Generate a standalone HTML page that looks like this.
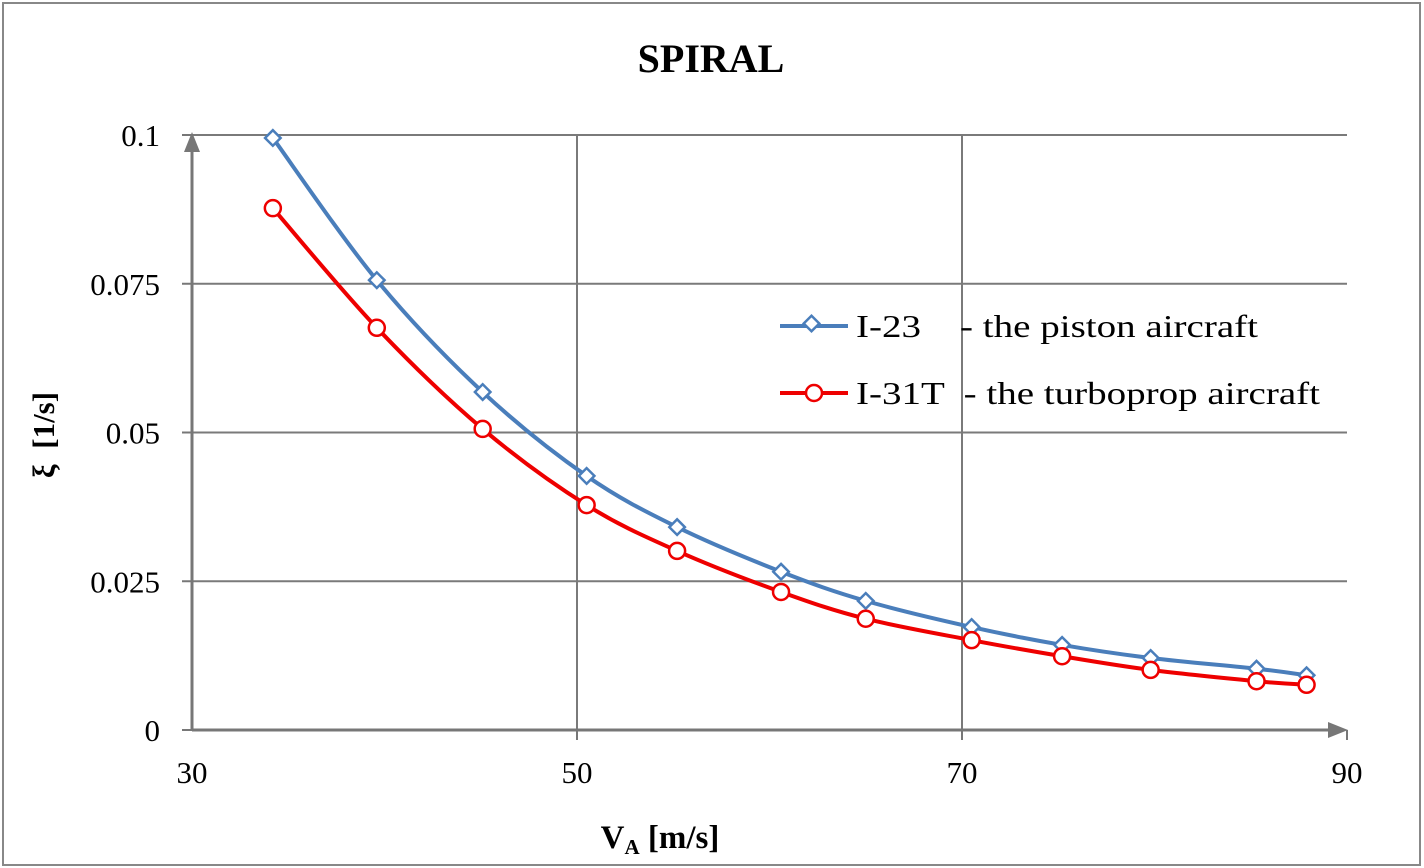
<!DOCTYPE html>
<html><head><meta charset="utf-8"><style>
body{margin:0;background:#fff}
svg{display:block;font-family:"Liberation Serif",serif}
</style></head><body>
<svg width="1424" height="868" viewBox="0 0 1424 868">
<rect x="3" y="3" width="1417" height="862" fill="#fff" stroke="#888" stroke-width="2"/>
<text x="711" y="72" font-size="40" font-weight="bold" text-anchor="middle">SPIRAL</text>
<g id="grid"></g>
<g id="axes"></g>
<g id="series"></g>
<text transform="translate(54,435) rotate(-90)" font-size="31" font-weight="bold" text-anchor="middle" style="white-space:pre">ξ  [1/s]</text>
<text x="660" y="848" font-size="33" font-weight="bold" text-anchor="middle">V<tspan font-size="21" dy="6">A</tspan><tspan dy="-6"> [m/s]</tspan></text>
<g>
<line x1="780" y1="326" x2="848" y2="326" stroke="#4a7ebb" stroke-width="4"/>
<rect x="806" y="318" width="11" height="11" transform="rotate(45 811.5 323.5)" fill="#fff" stroke="#4a7ebb" stroke-width="2.5"/>
<text x="856" y="337" font-size="32" textLength="402" lengthAdjust="spacingAndGlyphs" style="white-space:pre">I-23    - the piston aircraft</text>
<line x1="780" y1="393" x2="848" y2="393" stroke="#e00" stroke-width="4"/>
<circle cx="814" cy="393" r="8" fill="#fff" stroke="#e00" stroke-width="2.5"/>
<text x="856" y="404" font-size="32" textLength="464" lengthAdjust="spacingAndGlyphs" style="white-space:pre">I-31T  - the turboprop aircraft</text>
</g>
</svg>
<script>
const xs=[34.2,39.6,45.1,50.5,55.2,60.6,65.0,70.5,75.2,79.8,85.3,87.9];
const seriesI23=[0.0995,0.0756,0.0568,0.0427,0.0341,0.0266,0.0217,0.0173,0.0143,0.0121,0.0103,0.0092];
const seriesI31T=[0.0877,0.0676,0.0506,0.0378,0.0301,0.0232,0.0187,0.0151,0.0124,0.0101,0.0082,0.0076];
const xTicks=[30,50,70,90];
const yTicks=[0,0.025,0.05,0.075,0.1];
const yTickLabels=["0","0.025","0.05","0.075","0.1"];
const NS="http://www.w3.org/2000/svg";
const X=v=>192+(v-30)*(1347-192)/60;
const Y=v=>730-v*(730-135)/0.1;
function mk(t,a,p){const e=document.createElementNS(NS,t);for(const k in a)e.setAttribute(k,a[k]);p.appendChild(e);return e;}
const grid=document.getElementById('grid'),axes=document.getElementById('axes'),ser=document.getElementById('series');
yTicks.forEach((v,i)=>{
 if(v>0){const l=mk('line',{x1:192,x2:1347,y1:Y(v),y2:Y(v),stroke:'#7a7a7a','stroke-width':2},grid);
 
 }
 const t=mk('text',{x:160,y:Y(v)+11,'font-size':31,'text-anchor':'end'},axes);t.textContent=yTickLabels[i];
 
 
 mk('line',{x1:182,x2:192,y1:Y(v),y2:Y(v),stroke:'#777','stroke-width':2},axes);
});
xTicks.forEach(v=>{
 if(v>30&&v<90){const l=mk('line',{x1:X(v),x2:X(v),y1:135,y2:730,stroke:'#7a7a7a','stroke-width':2},grid);
 
 }
 if(v>30)mk('line',{x1:X(v),x2:X(v),y1:730,y2:740,stroke:'#777','stroke-width':2},axes);
 const t=mk('text',{x:X(v),y:783,'font-size':31,'text-anchor':'middle'},axes);t.textContent=v;
 
 
});
const ya=mk('line',{x1:192,x2:192,y1:150,y2:730,stroke:'#777','stroke-width':3},axes);


mk('polygon',{points:'192,132 184,152 200,152',fill:'#777'},axes);
const xa=mk('line',{x1:192,x2:1330,y1:730,y2:730,stroke:'#777','stroke-width':3},axes);


mk('polygon',{points:'1348,730 1328,722 1328,738',fill:'#777'},axes);
function curve(vals){
 const p=xs.map((x,i)=>[X(x),Y(vals[i])]);let d=`M${p[0][0]},${p[0][1]}`;
 for(let i=0;i<p.length-1;i++){const a=p[i-1]||p[i],b=p[i],c=p[i+1],e=p[i+2]||c;
  d+=` C${b[0]+(c[0]-a[0])/6},${b[1]+(c[1]-a[1])/6} ${c[0]-(e[0]-b[0])/6},${c[1]-(e[1]-b[1])/6} ${c[0]},${c[1]}`;}
 return d;}
const l1=mk('path',{d:curve(seriesI23),fill:'none',stroke:'#4a7ebb','stroke-width':4},ser);


const l2=mk('path',{d:curve(seriesI31T),fill:'none',stroke:'#e00','stroke-width':4},ser);


xs.forEach((x,i)=>{
 const cx=X(x),cy=Y(seriesI23[i]);
 const m=mk('rect',{x:cx-5.5,y:cy-5.5,width:11,height:11,transform:`rotate(45 ${cx} ${cy})`,fill:'#fff',stroke:'#4a7ebb','stroke-width':2.5},ser);
 
 
 const c=mk('circle',{cx:cx,cy:Y(seriesI31T[i]),r:8,fill:'#fff',stroke:'#e00','stroke-width':2.5},ser);
 
 
});
</script>
</body></html>
